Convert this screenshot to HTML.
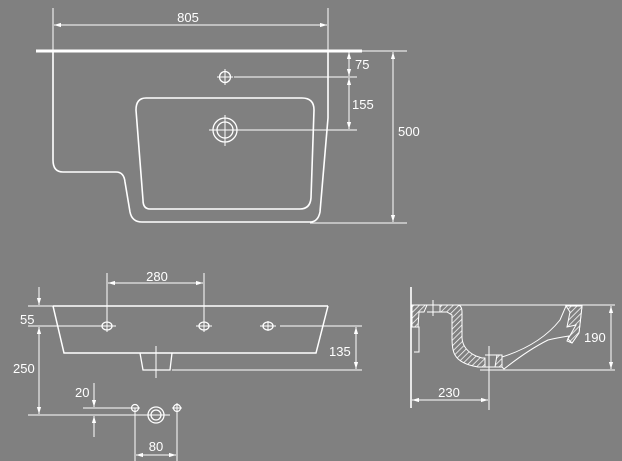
<!DOCTYPE html>
<html><head><meta charset="utf-8"><style>
html,body{margin:0;padding:0;background:#808080;}
svg{display:block}
text{font-family:"Liberation Sans",sans-serif;font-size:13px;fill:#fff}
</style></head><body>
<svg width="622" height="461" viewBox="0 0 622 461" xmlns="http://www.w3.org/2000/svg">
<defs>
<marker id="a" viewBox="0 0 10 10" refX="10" refY="5" markerWidth="7" markerHeight="7" orient="auto-start-reverse"><path d="M0,2 L10,5 L0,8 Z" fill="#fff"/></marker>
<pattern id="h" width="4" height="4" patternUnits="userSpaceOnUse" patternTransform="rotate(45)"><rect width="4" height="4" fill="#808080"/><line x1="0" y1="0" x2="0" y2="4" stroke="#fff" stroke-width="1.5"/></pattern>
</defs>
<g stroke="#fff" fill="none" stroke-width="1">
<!-- top view -->
<line x1="53" y1="8" x2="53" y2="51"/><line x1="328" y1="8" x2="328" y2="51"/>
<line x1="54" y1="25" x2="327" y2="25" marker-start="url(#a)" marker-end="url(#a)"/>
<line x1="36" y1="51" x2="362" y2="51" stroke-width="3"/>
<path d="M53 51 V160 Q53 172 63 172 H116 Q124 172 125 182 L130 212 Q132 222 142 222 H310 Q318 222 320 212 L328 118 V51" stroke-width="1.6"/>
<path d="M146 98 H302 Q314 98 314 110 L311 198 Q310 209 300 209 H150 Q143 209 143 200 L136 110 Q136 98 146 98 Z" stroke-width="1.6"/>
<circle cx="225" cy="77" r="5.5" stroke-width="1.3"/>
<line x1="217" y1="77" x2="233" y2="77"/><line x1="225" y1="69" x2="225" y2="85"/>
<line x1="234" y1="77" x2="357" y2="77"/>
<circle cx="225" cy="130" r="12" stroke-width="1.3"/><circle cx="225" cy="130" r="8" stroke-width="1.3"/>
<line x1="209" y1="130" x2="241" y2="130"/><line x1="225" y1="115" x2="225" y2="146"/>
<line x1="241" y1="130" x2="357" y2="130"/>
<line x1="349" y1="52" x2="349" y2="76" marker-start="url(#a)" marker-end="url(#a)"/>
<line x1="349" y1="78" x2="349" y2="129" marker-start="url(#a)" marker-end="url(#a)"/>
<line x1="362" y1="51" x2="407" y2="51"/>
<line x1="310" y1="223" x2="407" y2="223"/>
<line x1="393" y1="52" x2="393" y2="222" marker-start="url(#a)" marker-end="url(#a)"/>
<!-- front view -->
<line x1="107" y1="273" x2="107" y2="332"/><line x1="204" y1="273" x2="204" y2="332"/>
<line x1="108" y1="283" x2="203" y2="283" marker-start="url(#a)" marker-end="url(#a)"/>
<path d="M53 306 H328 M53 306 L64 353 H316 L328 306" stroke-width="1.5"/>
<path d="M140 353 L143 370 H170 L172 353" stroke-width="1.3"/>
<line x1="156" y1="346" x2="156" y2="378"/>
<g stroke-width="1.3">
<ellipse cx="107" cy="326" rx="5" ry="4"/><ellipse cx="204" cy="326" rx="5" ry="4"/><ellipse cx="268" cy="326" rx="5" ry="4"/>
</g>
<line x1="100" y1="326" x2="116" y2="326"/><line x1="196" y1="326" x2="212" y2="326"/><line x1="260" y1="326" x2="276" y2="326"/>
<line x1="268" y1="321" x2="268" y2="331"/>
<line x1="280" y1="326" x2="362" y2="326"/>
<line x1="172" y1="370" x2="362" y2="370"/>
<line x1="356" y1="327" x2="356" y2="369" marker-start="url(#a)" marker-end="url(#a)"/>
<line x1="28" y1="306" x2="53" y2="306"/><line x1="28" y1="326" x2="100" y2="326"/>
<line x1="39" y1="287" x2="39" y2="305" marker-end="url(#a)"/>
<line x1="39" y1="327" x2="39" y2="414" marker-start="url(#a)" marker-end="url(#a)"/>
<line x1="28" y1="415" x2="170" y2="415"/>
<line x1="83" y1="408" x2="130" y2="408"/>
<line x1="94" y1="383" x2="94" y2="407" marker-end="url(#a)"/>
<line x1="94" y1="437" x2="94" y2="416" marker-end="url(#a)"/>
<circle cx="135" cy="408" r="3.5" stroke-width="1.2"/><circle cx="177" cy="408" r="3.5" stroke-width="1.2"/>
<line x1="130" y1="408" x2="140" y2="408"/><line x1="172" y1="408" x2="182" y2="408"/>
<line x1="177" y1="403" x2="177" y2="413"/>
<circle cx="156" cy="415" r="8" stroke-width="1.3"/><circle cx="156" cy="415" r="5" stroke-width="1.3"/>
<line x1="135" y1="408" x2="135" y2="461"/><line x1="177" y1="408" x2="177" y2="461"/>
<line x1="136" y1="455" x2="176" y2="455" marker-start="url(#a)" marker-end="url(#a)"/>
<!-- side view -->
<line x1="411" y1="287" x2="411" y2="408" stroke-width="1.6"/>
<line x1="411" y1="305" x2="615" y2="305"/>
<line x1="480" y1="370" x2="615" y2="370"/>
<line x1="611" y1="306" x2="611" y2="369" marker-start="url(#a)" marker-end="url(#a)"/>
<line x1="489" y1="346" x2="489" y2="410"/>
<line x1="412" y1="400" x2="488" y2="400" marker-start="url(#a)" marker-end="url(#a)"/>
<path d="M412 305 H427 L424 312 H419 L418 327 H412 Z" fill="url(#h)"/>
<path d="M414 327 H419 V352 H414" />
<path d="M440 305 H457 Q462 305 462 312 V338 Q463 350 476 356 L482 358 H485 V367 H478 Q460 364 455 355 Q452 350 452 338 V315 L447 312 H440 Z" fill="url(#h)"/>
<path d="M497 355 H502 L502 367 H495 Z" fill="url(#h)"/>
<path d="M485 355 H497 M485 367 H495"/>
<path d="M502 357 Q540 345 560 320 L566 306 H582 L579 333 L572 343 L567 341 L569 336 Q556 338 548 340 Q528 350 504 369 L502 367" fill="none"/>
<path d="M566 306 H582 L579 333 L572 343 L568 339 L576 325 L567 327 L570 312 Z" fill="url(#h)"/>
<line x1="433" y1="300" x2="433" y2="316"/>
<line x1="427" y1="312" x2="440" y2="312"/>
</g>
<text x="188" y="22" text-anchor="middle">805</text>
<text x="355" y="69">75</text>
<text x="352" y="109">155</text>
<text x="398" y="136">500</text>
<text x="157" y="281" text-anchor="middle">280</text>
<text x="20" y="324">55</text>
<text x="13" y="373">250</text>
<text x="329" y="356">135</text>
<text x="75" y="397">20</text>
<text x="156" y="451" text-anchor="middle">80</text>
<text x="584" y="342">190</text>
<text x="449" y="397" text-anchor="middle">230</text>
</svg>
</body></html>
